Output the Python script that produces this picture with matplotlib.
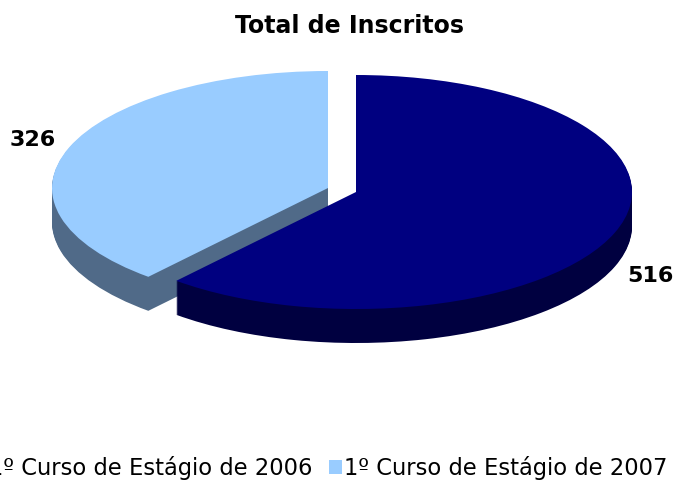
import matplotlib
matplotlib.use("Agg")
import matplotlib.pyplot as plt
from matplotlib.patches import Patch

title = "Total de Inscritos"
categories = ["1º Curso de Estágio de 2006", "1º Curso de Estágio de 2007"]
values = [516, 326]
top_colors = ["#000080", "#99CCFF"]
side_colors = ["#000040", "#506A88"]

W, H = 674, 480
RX, RY = 276.0, 117.0
DEPTH = 34
centers_px = [(356, 192), (328, 188)]
CX, CY = centers_px[0]

fig = plt.figure(figsize=(W / 100, H / 100), dpi=100)
ax = fig.add_axes([0, 0, 1, 1])

total = sum(values)
fracs = [v / total for v in values]
starts = [90, 90 - 360 * fracs[0]]


def disc(i, drop, color):
    px, py = centers_px[i]
    ax.pie([fracs[i]], startangle=starts[i], counterclock=False, normalize=False,
           colors=[color], center=((px - CX) / RX, (CY - py - drop) / RY),
           wedgeprops=dict(linewidth=0, antialiased=True))


for i in (1, 0):
    for drop in range(DEPTH, 0, -1):
        disc(i, drop, side_colors[i])
    disc(i, 0, top_colors[i])

ax.set_aspect("auto")
ax.set_xlim(-CX / RX, (W - CX) / RX)
ax.set_ylim((CY - H) / RY, CY / RY)
ax.axis("off")


def text_px(x, y, s, **kw):
    fig.text(x / W, 1 - y / H, s, ha="center", va="center", **kw)


text_px(349.5, 26, title, fontsize=17, fontweight="bold", family="DejaVu Sans")
text_px(33, 140, str(values[1]), fontsize=16, fontweight="bold", family="DejaVu Sans")
text_px(650, 276, str(values[0]), fontsize=16, fontweight="bold", family="DejaVu Sans")

handles = [Patch(facecolor=c, linewidth=0) for c in top_colors]
ax.legend(handles, categories, ncols=2, frameon=False, loc="center",
          bbox_to_anchor=(320.5 / W, 1 - 468 / H), bbox_transform=fig.transFigure,
          fontsize=16.3, handlelength=0.57, handleheight=0.57, handletextpad=0.13,
          columnspacing=0.72, borderpad=0, borderaxespad=0)

fig.savefig("out.png", dpi=100)
